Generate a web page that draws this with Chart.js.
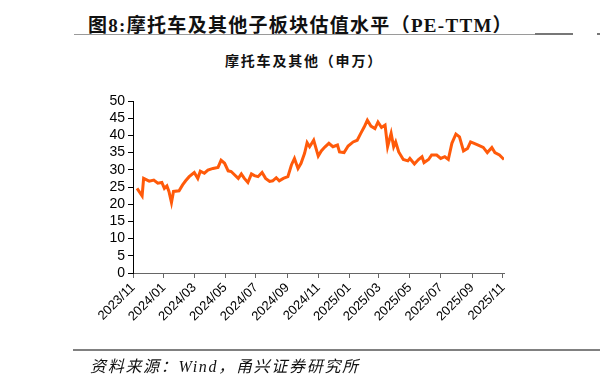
<!DOCTYPE html>
<html>
<head>
<meta charset="utf-8">
<script src="https://cdn.jsdelivr.net/npm/chart.js@4.4.0/dist/chart.umd.min.js"></script>
<style>
  body { margin: 0; width: 600px; height: 384px; background: #fff; position: relative; overflow: hidden; }
  #chartBox { position: absolute; left: 0; top: 0; width: 600px; height: 384px; }
  .title { position: absolute; left: 88px; top: 10px; font: bold 19px "Liberation Serif", "Noto Sans CJK SC", serif; letter-spacing: 1.3px; color: #111; white-space: nowrap; }
  .rule { position: absolute; height: 1px; background: #9a9a9a; }
  .subtitle { position: absolute; left: 0; width: 608px; top: 50px; text-align: center; font: bold 14px "Noto Sans CJK SC", sans-serif; letter-spacing: 1.8px; color: #111; }
  .source { position: absolute; left: 90px; top: 353px; font: italic 16px "Liberation Serif", "Noto Sans CJK SC", serif; letter-spacing: 1.7px; color: #111; white-space: nowrap; }
</style>
</head>
<body>
<div class="title">图8:摩托车及其他子板块估值水平（PE-TTM）</div>
<div class="rule" style="left:74px; top:34px; width:462px;"></div>
<div class="rule" style="left:535px; top:33px; width:38px; height:2px; background:#777;"></div>
<div class="rule" style="left:597px; top:33px; width:3px; height:2px; background:#777;"></div>
<div class="subtitle">摩托车及其他（申万）</div>
<div id="chartBox"><canvas id="peChart" width="600" height="384"></canvas></div>
<div class="rule" style="left:73px; top:349px; width:527px; height:2px; background:#808080;"></div>
<div class="source">资料来源：Wind，甬兴证券研究所</div>

<script>
// PE-TTM readings
const dates = [
  '2023-11-09', '2023-11-19', '2023-11-22', '2023-12-03', '2023-12-12', '2023-12-20', '2023-12-28',
  '2024-01-02', '2024-01-07', '2024-01-11', '2024-01-16', '2024-01-20', '2024-01-31', '2024-02-07',
  '2024-02-13', '2024-02-20', '2024-03-01', '2024-03-08', '2024-03-13', '2024-03-21', '2024-03-28',
  '2024-04-07', '2024-04-17', '2024-04-23', '2024-04-30', '2024-05-07', '2024-05-13', '2024-05-20',
  '2024-05-27', '2024-06-02', '2024-06-08', '2024-06-15', '2024-06-22', '2024-06-28', '2024-07-05',
  '2024-07-13', '2024-07-20', '2024-07-28', '2024-08-03', '2024-08-10', '2024-08-16', '2024-08-24',
  '2024-09-02', '2024-09-09', '2024-09-15', '2024-09-22', '2024-09-28', '2024-10-05', '2024-10-10',
  '2024-10-15', '2024-10-23', '2024-11-01', '2024-11-07', '2024-11-14', '2024-11-22', '2024-11-30',
  '2024-12-09', '2024-12-13', '2024-12-22', '2024-12-30', '2025-01-09', '2025-01-17', '2025-01-24',
  '2025-01-31', '2025-02-06', '2025-02-13', '2025-02-21', '2025-02-27', '2025-03-06', '2025-03-13',
  '2025-03-18', '2025-03-25', '2025-03-30', '2025-04-03', '2025-04-09', '2025-04-18', '2025-04-27',
  '2025-05-01', '2025-05-10', '2025-05-18', '2025-05-25', '2025-05-29', '2025-06-07', '2025-06-13',
  '2025-06-23', '2025-07-01', '2025-07-09', '2025-07-16', '2025-07-23', '2025-07-31', '2025-08-07',
  '2025-08-15', '2025-08-23', '2025-08-29', '2025-09-05', '2025-09-13', '2025-09-23', '2025-10-01',
  '2025-10-10', '2025-10-16', '2025-10-25', '2025-11-03'
];
const peValues = [
  24.6, 22.4, 27.5, 26.7, 27.0, 26.1, 26.3,
  24.6, 25.3, 23.7, 20.5, 23.7, 23.9, 25.6,
  26.8, 28.0, 29.2, 27.5, 29.6, 29.0, 29.9,
  30.4, 30.7, 32.8, 31.9, 29.7, 29.5, 28.5,
  27.5, 28.8, 27.5, 26.3, 28.8, 28.3, 28.0,
  29.2, 27.5, 26.6, 26.8, 27.7, 26.8, 27.5,
  28.0, 31.4, 33.3, 30.4, 31.9, 34.8, 37.9,
  36.7, 38.6, 34.0, 35.5, 36.6, 37.7, 36.7,
  37.2, 35.2, 35.0, 36.9, 38.1, 38.6, 40.6,
  42.5, 44.4, 42.7, 42.0, 43.9, 42.3, 43.0,
  36.7, 40.6, 36.7, 38.1, 35.2, 33.0, 32.6,
  33.3, 31.7, 33.0, 33.8, 32.1, 33.0, 34.3,
  34.3, 33.3, 33.8, 33.0, 37.7, 40.4, 39.6,
  35.5, 36.2, 38.1, 37.7, 37.2, 36.5, 35.0,
  36.5, 35.0, 34.3, 33.0
];
const tickLabels = ['2023/11', '2024/01', '2024/03', '2024/05', '2024/07', '2024/09', '2024/11',
                    '2025/01', '2025/03', '2025/05', '2025/07', '2025/09', '2025/11'];
const yTicks = [0, 5, 10, 15, 20, 25, 30, 35, 40, 45, 50];

// days counted from the first tick month
const origin = Date.UTC(2023, 10, 1);
function dayOf(y, m, d) {
    return Math.round((Date.UTC(y, m - 1, d) - origin) / 86400000);
}
const tickDays = tickLabels.map(function(t) {
    const p = t.split('/');
    return dayOf(+p[0], +p[1], 1);
});
const points = dates.map(function(s, i) {
    const p = s.split('-');
    return { x: dayOf(+p[0], +p[1], +p[2]), y: peValues[i] };
});

const ctx = document.getElementById('peChart').getContext('2d');
new Chart(ctx, {
    type: 'line',
    data: {
        datasets: [{
            data: points,
            borderColor: '#ff5a0a',
            borderWidth: 3,
            pointRadius: 0,
            tension: 0,
            fill: false
        }]
    },
    options: {
        responsive: false,
        animation: false,
        layout: { padding: { left: 83, right: 96, top: 101, bottom: 51 } },
        plugins: { legend: { display: false }, tooltip: { enabled: false } },
        scales: {
            x: {
                type: 'linear',
                min: 0,
                max: tickDays[tickDays.length - 1] + 2,
                afterBuildTicks: function(scale) {
                    scale.ticks = tickDays.map(function(v) { return { value: v }; });
                },
                afterFit: function(scale) { scale.height = 60; },
                grid: { drawOnChartArea: false, drawTicks: true, tickLength: 5, color: '#666' },
                border: { display: true, color: '#666', width: 1 },
                ticks: {
                    autoSkip: false,
                    minRotation: 45,
                    maxRotation: 45,
                    padding: 2,
                    color: '#000',
                    font: { family: 'Liberation Sans', size: 13 },
                    callback: function(v) {
                        const i = tickDays.indexOf(v);
                        return i >= 0 ? tickLabels[i] : '';
                    }
                }
            },
            y: {
                min: 0,
                max: 50,
                afterBuildTicks: function(scale) {
                    scale.ticks = yTicks.map(function(v) { return { value: v }; });
                },
                afterFit: function(scale) { scale.width = 50; },
                grid: { drawOnChartArea: false, drawTicks: true, tickLength: 5, color: '#000' },
                border: { display: true, color: '#000', width: 1 },
                ticks: {
                    autoSkip: false,
                    padding: 3,
                    color: '#000',
                    font: { family: 'Liberation Sans', size: 14 }
                }
            }
        }
    }
});
</script>
</body>
</html>
